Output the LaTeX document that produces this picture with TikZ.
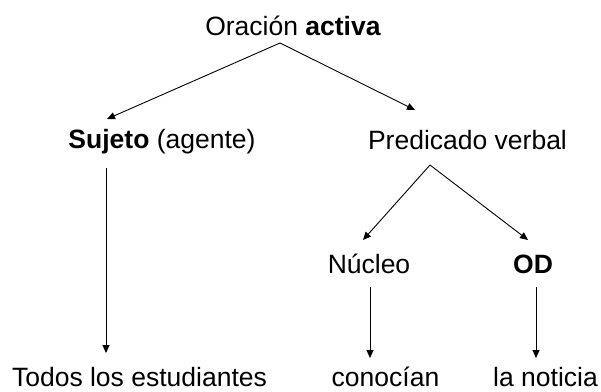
\documentclass[tikz,border=0pt]{standalone}
\usepackage{fontspec}
\setmainfont{Liberation Sans}
\usetikzlibrary{arrows.meta}
\begin{document}
\begin{tikzpicture}[x=1pt,y=-1pt,
  lbl/.style={anchor=base,inner sep=0pt,font=\fontsize{26.5}{30}\selectfont},
  arr/.style={line width=0.9pt,-{Triangle[length=8pt,width=7pt]}}]
\useasboundingbox (0,0) rectangle (601,391);
\node[lbl] (top) at (293,35) {Oración \textbf{activa}};
\node[lbl] (suj) at (162,148) {\textbf{Sujeto} (agente)};
\node[lbl] (pred) at (467.5,149) {Predicado verbal};
\node[lbl] (nuc) at (369,273) {Núcleo};
\node[lbl] (od) at (533,273) {\textbf{OD}};
\node[lbl] (todos) at (139.5,386) {Todos los estudiantes};
\node[lbl] (con) at (385.5,386) {conocían};
\node[lbl] (noti) at (545.5,386) {la noticia};
\coordinate (a0) at (280,43);
\coordinate (a1) at (107,119);
\coordinate (a2) at (415,110);
\coordinate (b0) at (430,165);
\coordinate (b1) at (363,240);
\coordinate (b2) at (528,240);
\coordinate (s0) at (106,168);
\coordinate (s1) at (106,353);
\coordinate (n0) at (370,287);
\coordinate (n1) at (370,358);
\coordinate (o0) at (536,287);
\coordinate (o1) at (536,358);
\draw[arr] (a0) -- (a1);
\draw[arr] (a0) -- (a2);
\draw[arr] (b0) -- (b1);
\draw[arr] (b0) -- (b2);
\draw[arr] (s0) -- (s1);
\draw[arr] (n0) -- (n1);
\draw[arr] (o0) -- (o1);
\end{tikzpicture}
\end{document}
